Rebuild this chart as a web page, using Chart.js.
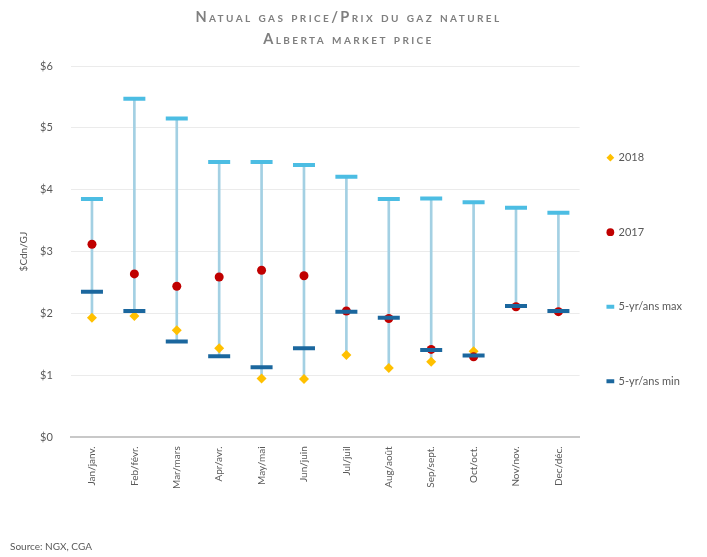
<!DOCTYPE html>
<html>
<head>
<meta charset="utf-8">
<script src="https://cdn.jsdelivr.net/npm/chart.js@4/dist/chart.umd.min.js"></script>
<style>
  html, body { margin: 0; padding: 0; background: #fff; }
  #wrap { position: relative; width: 707px; height: 557px; }
  #title {
    position: absolute; left: -5px; top: 6px; width: 707px;
    text-align: center; font-family: Lato, sans-serif; font-weight: bold;
    font-variant: small-caps; letter-spacing: 2.4px; font-size: 14.5px;
    line-height: 22px; color: #7f7f7f;
  }
  #source {
    position: absolute; left: 10px; top: 540px;
    font-family: Lato, sans-serif; font-size: 10px; color: #595959;
  }
</style>
</head>
<body>
<div id="wrap">
  <div id="title">Natual gas price/Prix du gaz naturel<br>Alberta market price</div>
  <canvas id="myChart" width="707" height="557"></canvas>
  <div id="source">Source: NGX, CGA</div>
</div>
<script>
'use strict';

const months = ['Jan/janv.', 'Feb/févr.', 'Mar/mars', 'Apr/avr.', 'May/mai', 'Jun/juin',
  'Jul/juil', 'Aug/août', 'Sep/sept.', 'Oct/oct.', 'Nov/nov.', 'Dec/déc.'];
const price2018 = [1.93, 1.96, 1.73, 1.44, 0.95, 0.94, 1.33, 1.12, 1.22, 1.39, null, null];
const price2017 = [3.12, 2.64, 2.44, 2.59, 2.70, 2.61, 2.04, 1.92, 1.42, 1.30, 2.11, 2.03];
const fiveYrMax = [3.85, 5.47, 5.15, 4.45, 4.45, 4.40, 4.21, 3.85, 3.86, 3.80, 3.71, 3.63];
const fiveYrMin = [2.35, 2.04, 1.55, 1.31, 1.13, 1.44, 2.03, 1.93, 1.41, 1.32, 2.12, 2.04];
const yTicks = [0, 1, 2, 3, 4, 5, 6];

// high-low line spans every series for the month, like the Excel original
const highLow = months.map((m, i) => {
  let vals = [price2018[i], price2017[i], fiveYrMax[i], fiveYrMin[i]].filter(v => v !== null);
  return [Math.min(...vals), Math.max(...vals)];
});

const grey = '#595959';

let ctx = document.getElementById('myChart');
let chart = new Chart(ctx, {
  data: {
    labels: months,
    datasets: [
      {
        type: 'line', label: '2018', data: price2018, showLine: false,
        pointStyle: 'rectRot', pointRadius: 5, pointBorderWidth: 0,
        pointBackgroundColor: '#ffc000', backgroundColor: '#ffc000', borderColor: '#ffc000',
        order: 4
      },
      {
        type: 'line', label: '2017', data: price2017, showLine: false,
        pointStyle: 'circle', pointRadius: 4.5, pointBorderWidth: 0,
        pointBackgroundColor: '#c00000', backgroundColor: '#c00000', borderColor: '#c00000',
        order: 3
      },
      {
        type: 'line', label: '5-yr/ans max', data: fiveYrMax, showLine: false,
        pointStyle: 'line', pointRadius: 11, pointBorderWidth: 4,
        pointBorderColor: '#4cbde3', backgroundColor: '#4cbde3', borderColor: '#4cbde3',
        order: 2
      },
      {
        type: 'line', label: '5-yr/ans min', data: fiveYrMin, showLine: false,
        pointStyle: 'line', pointRadius: 11, pointBorderWidth: 4,
        pointBorderColor: '#1b679e', backgroundColor: '#1b679e', borderColor: '#1b679e',
        order: 1
      },
      {
        type: 'bar', label: 'range', data: highLow, barThickness: 2,
        backgroundColor: '#a3d0e3', order: 5
      }
    ]
  },
  options: {
    responsive: false,
    animation: false,
    layout: { padding: { top: 66, left: 14, right: 15, bottom: 59 } },
    plugins: {
      tooltip: { enabled: false },
      legend: {
        position: 'right',
        align: 'start',
        // blank title only pushes the items down to where the original has them
        title: { display: true, text: ' ', font: { size: 11 }, padding: { top: 0, bottom: 45 } },
        labels: {
          generateLabels: c => Chart.defaults.plugins.legend.labels.generateLabels(c)
            .map(item => Object.assign(item, { text: [item.text] })),
          filter: item => item.datasetIndex !== 4,
          sort: (a, b) => a.datasetIndex - b.datasetIndex,
          usePointStyle: true, boxWidth: 5.5, boxHeight: 5.5, padding: 28,
          color: grey, font: { family: 'Lato', size: 11, lineHeight: '46.5px' }
        }
      }
    },
    scales: {
      x: {
        grid: { display: false, drawTicks: false },
        border: { color: '#c8c8c8', width: 2 },
        ticks: {
          color: grey, font: { family: 'Lato', size: 10 }, padding: 9,
          minRotation: 90, maxRotation: 90, autoSkip: false
        }
      },
      y: {
        min: 0, max: 6,
        afterBuildTicks: axis => { axis.ticks = yTicks.map(v => ({ value: v })); },
        grid: { color: '#ebebeb', lineWidth: 1, tickLength: 12, tickColor: 'rgba(0,0,0,0)' },
        border: { display: false },
        title: { display: true, text: '$Cdn/GJ', color: grey, font: { family: 'Lato', size: 10 } },
        ticks: {
          color: grey, font: { family: 'Lato', size: 11 }, padding: 6,
          callback: v => '$' + v
        }
      }
    }
  }
});
</script>
</body>
</html>
